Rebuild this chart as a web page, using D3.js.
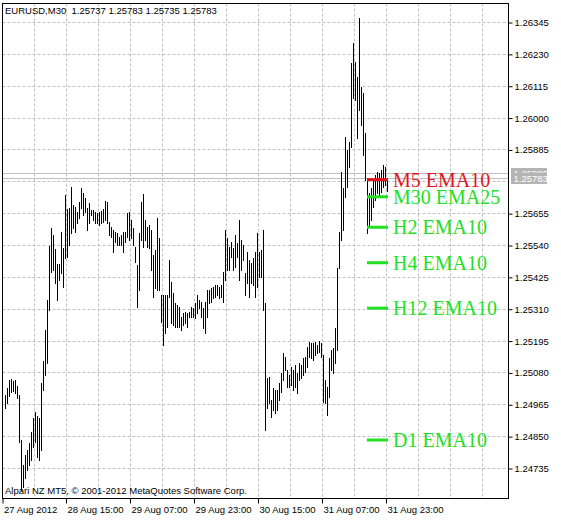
<!DOCTYPE html>
<html><head><meta charset="utf-8">
<script src="https://cdn.jsdelivr.net/npm/d3@7"></script>
<style>body{margin:0;background:#fff}svg{display:block}</style>
</head><body><svg id="c" width="561" height="520"></svg>
<script>
const symbol = "EURUSD,M30";
const lastOHLC = [1.25737, 1.25783, 1.25735, 1.25783];
const startTime = "2012-08-27T23:30:00";
const barMinutes = 30;
const highs = [
1.24998,1.25024,1.25053,1.25056,1.25049,1.25053,1.25031,1.24998,1.24836,1.24746,
1.24782,1.24800,1.24825,1.24865,1.24915,1.24937,1.24923,1.24915,1.25042,1.25121,
1.25233,1.25341,1.25536,1.25601,1.25576,1.25526,1.25471,1.25471,1.25587,1.25529,
1.25720,1.25670,1.25674,1.25749,1.25684,1.25677,1.25659,1.25695,1.25746,1.25728,
1.25710,1.25674,1.25692,1.25666,1.25666,1.25659,1.25656,1.25659,1.25663,1.25670,
1.25699,1.25695,1.25623,1.25605,1.25594,1.25587,1.25583,1.25569,1.25576,1.25587,
1.25587,1.25656,1.25659,1.25630,1.25601,1.25533,1.25468,1.25583,1.25695,1.25724,
1.25630,1.25605,1.25612,1.25594,1.25504,1.25522,1.25637,1.25565,1.25359,1.25359,
1.25359,1.25359,1.25486,1.25406,1.25367,1.25331,1.25323,1.25316,1.25280,1.25295,
1.25298,1.25295,1.25298,1.25316,1.25313,1.25331,1.25359,1.25341,1.25334,1.25313,
1.25334,1.25378,1.25378,1.25385,1.25388,1.25396,1.25396,1.25388,1.25396,1.25443,
1.25594,1.25565,1.25533,1.25551,1.25529,1.25576,1.25547,1.25630,1.25558,1.25540,
1.25439,1.25515,1.25486,1.25475,1.25493,1.25515,1.25583,1.25515,1.25522,1.25594,
1.25331,1.25060,1.25063,1.24980,1.25024,1.25017,1.25017,1.25042,1.25078,1.25150,
1.25136,1.25089,1.25071,1.25100,1.25089,1.25107,1.25078,1.25114,1.25107,1.25132,
1.25136,1.25172,1.25190,1.25186,1.25186,1.25190,1.25179,1.25193,1.25186,1.25143,
1.25053,1.25027,1.25132,1.25161,1.25168,1.25240,1.25457,1.25587,1.25804,1.25746,
1.25930,1.25883,1.25912,1.26197,1.26269,1.26201,1.26146,1.26359,1.26110,1.26089,
1.25944,1.25782,1.25728,1.25746,1.25775,1.25793,1.25804,1.25800,1.25811,1.25829,
1.25822,1.25783];
const lows = [
1.24952,1.24970,1.24995,1.25009,1.25013,1.25006,1.24988,1.24829,1.24656,1.24666,
1.24699,1.24728,1.24746,1.24764,1.24811,1.24829,1.24775,1.24764,1.24800,1.25017,
1.25071,1.25114,1.25305,1.25443,1.25450,1.25403,1.25341,1.25414,1.25439,1.25388,
1.25493,1.25497,1.25540,1.25583,1.25601,1.25587,1.25619,1.25637,1.25674,1.25648,
1.25659,1.25594,1.25619,1.25648,1.25630,1.25619,1.25619,1.25612,1.25619,1.25623,
1.25630,1.25619,1.25576,1.25569,1.25515,1.25551,1.25540,1.25540,1.25540,1.25515,
1.25551,1.25569,1.25558,1.25565,1.25540,1.25479,1.25316,1.25378,1.25558,1.25533,
1.25558,1.25533,1.25529,1.25450,1.25352,1.25385,1.25378,1.25378,1.25262,1.25179,
1.25222,1.25244,1.25352,1.25258,1.25251,1.25244,1.25244,1.25244,1.25233,1.25251,
1.25258,1.25244,1.25280,1.25280,1.25280,1.25276,1.25295,1.25313,1.25280,1.25240,
1.25222,1.25280,1.25331,1.25334,1.25349,1.25352,1.25359,1.25349,1.25352,1.25334,
1.25414,1.25450,1.25450,1.25497,1.25450,1.25461,1.25497,1.25414,1.25450,1.25486,
1.25359,1.25403,1.25352,1.25403,1.25396,1.25352,1.25388,1.25424,1.25424,1.25305,
1.24872,1.24952,1.24970,1.24919,1.24944,1.24934,1.24944,1.24980,1.25009,1.25053,
1.25089,1.25027,1.25027,1.25035,1.25017,1.25027,1.25006,1.25053,1.25060,1.25071,
1.25082,1.25100,1.25136,1.25132,1.25125,1.25143,1.25150,1.25154,1.25136,1.24973,
1.24970,1.24926,1.24991,1.25089,1.25078,1.25114,1.25161,1.25457,1.25558,1.25594,
1.25713,1.25749,1.25822,1.25894,1.26071,1.26063,1.25926,1.26027,1.25973,1.25865,
1.25775,1.25583,1.25605,1.25630,1.25677,1.25702,1.25728,1.25713,1.25731,1.25749,
1.25757,1.25735];
const priceTicks = [1.24735,1.24850,1.24965,1.25080,1.25195,1.25310,1.25425,1.25540,
                    1.25655,1.25770,1.25885,1.26000,1.26115,1.26230,1.26345];
const timeTickTimes = ["2012-08-27T23:30:00","2012-08-28T15:00:00","2012-08-29T07:00:00",
                       "2012-08-29T23:00:00","2012-08-30T15:00:00","2012-08-31T07:00:00","2012-08-31T23:00:00"];
const timeTickLabels = ["27 Aug 2012","28 Aug 15:00","29 Aug 07:00","29 Aug 23:00",
                        "30 Aug 15:00","31 Aug 07:00","31 Aug 23:00"];
const bidPrice = 1.25783, askPrice = 1.25800;
const emaLabels = ["M5 EMA10","M30 EMA25","H2 EMA10","H4 EMA10","H12 EMA10","D1 EMA10"];
const emaValues = [1.25776,1.25714,1.25604,1.25476,1.25312,1.24836];
const copyright = "Alpari NZ MT5, \u00A9 2001-2012 MetaQuotes Software Corp.";

const svg = d3.select("#c");
const plot = {left:2.5, top:3.5, right:508.5, bottom:498.5};
const FONT = "'Liberation Sans', Arial, sans-serif";

const parse = d3.timeParse("%Y-%m-%dT%H:%M:%S");
const t0 = parse(startTime);
const barTimes = highs.map((_, i) => d3.timeMinute.offset(t0, i * barMinutes));
const tLast = barTimes[barTimes.length - 1];

const x = d3.scaleTime().domain([t0, tLast]).range([5, 5 + 2 * (highs.length - 1)]);
const y = d3.scaleLinear().domain([priceTicks[0], priceTicks[priceTicks.length-1]]).range([468, 22]);

// tag geometry
const bidTop = Math.round(y(bidPrice)) - 5, bidBottom = bidTop + 11;
const askTop = Math.round(y(askPrice)) - 5;
const defs = svg.append("defs");
defs.append("clipPath").attr("id", "aboveBid").append("rect")
  .attr("x", 0).attr("y", 0).attr("width", 561).attr("height", bidTop);
defs.append("clipPath").attr("id", "belowBid").append("rect")
  .attr("x", 0).attr("y", bidBottom).attr("width", 561).attr("height", 520 - bidBottom);

// grid
const gridG = svg.append("g").attr("stroke", "#c0c0c0").attr("stroke-dasharray", "3,2").attr("stroke-width", 1);
priceTicks.forEach(p => {
  const yy = Math.round(y(p)) + 0.5;
  gridG.append("line").attr("x1", plot.left).attr("x2", plot.right).attr("y1", yy).attr("y2", yy);
});
const gridTimes = [];
for (let t = parse("2012-08-28T07:00:00"); x(t) < plot.right - 4; t = d3.timeHour.offset(t, 8)) gridTimes.push(t);
gridTimes.forEach(t => {
  const xx = Math.round(x(t)) - 0.5;
  gridG.append("line").attr("y1", plot.top).attr("y2", plot.bottom).attr("x1", xx).attr("x2", xx);
});

// bid / ask lines
[askPrice, bidPrice].forEach(p => {
  const yy = Math.round(y(p)) + 0.5;
  svg.append("line").attr("x1", plot.left).attr("x2", plot.right).attr("y1", yy).attr("y2", yy)
    .attr("stroke", "#c0c0c0").attr("stroke-width", 1);
});

// bars
svg.append("g").selectAll("line").data(barTimes).join("line")
  .attr("x1", d => Math.round(x(d)) + 0.5).attr("x2", d => Math.round(x(d)) + 0.5)
  .attr("y1", (d, i) => Math.round(y(highs[i])))
  .attr("y2", (d, i) => Math.round(y(lows[i])) + 1)
  .attr("stroke", "#000").attr("stroke-width", 1);

// frame
svg.append("rect").attr("x", plot.left).attr("y", plot.top)
  .attr("width", plot.right - plot.left).attr("height", plot.bottom - plot.top)
  .attr("fill", "none").attr("stroke", "#000").attr("stroke-width", 1);

// price axis
const yAxis = d3.axisRight(y).tickValues(priceTicks).tickFormat(d3.format(".5f")).tickSize(4).tickPadding(2);
const yAxG = svg.append("g").attr("transform", `translate(${plot.right},0.5)`).call(yAxis);
yAxG.select(".domain").remove();
yAxG.selectAll("line").attr("stroke", "#000");
yAxG.selectAll("text").attr("font-family", FONT).attr("font-size", "9.5px").attr("fill", "#000");
// tick label that sits under the price tags is only partly visible, as in the terminal
yAxG.selectAll(".tick").filter(d => Math.abs(y(d) - y(bidPrice)) < 9)
  .attr("clip-path", "url(#belowBid)");

// time axis
const tickDates = timeTickTimes.map(parse);
const xAxis = d3.axisBottom(x).tickValues(tickDates).tickFormat((d, i) => timeTickLabels[i]).tickSize(5).tickPadding(3);
const xAxG = svg.append("g").attr("transform", `translate(0,${plot.bottom})`).call(xAxis);
xAxG.select(".domain").remove();
xAxG.selectAll(".tick").attr("transform", (d, i) => `translate(${i === 0 ? plot.left + 0.5 : Math.round(x(d)) - 0.5},0)`);
xAxG.selectAll("line").attr("stroke", "#000");
xAxG.selectAll("text").attr("font-family", FONT).attr("font-size", "9.5px").attr("fill", "#000")
  .attr("text-anchor", "start").attr("x", 1);

// bid/ask price tags (ask tag partly covered by bid tag)
const askG = svg.append("g").attr("clip-path", "url(#aboveBid)");
askG.append("rect").attr("x", plot.right + 2.5).attr("y", askTop).attr("width", 36).attr("height", 11).attr("fill", "#b4b4b4");
askG.append("text").attr("x", plot.right + 5).attr("y", askTop + 9)
  .attr("font-family", FONT).attr("font-size", "9.5px").attr("fill", "#fff").text(d3.format(".5f")(askPrice));
const bidG = svg.append("g");
bidG.append("rect").attr("x", plot.right + 2.5).attr("y", bidTop).attr("width", 36).attr("height", 11).attr("fill", "#b4b4b4");
bidG.append("text").attr("x", plot.right + 5).attr("y", bidTop + 9)
  .attr("font-family", FONT).attr("font-size", "9.5px").attr("fill", "#fff").text(d3.format(".5f")(bidPrice));

// title & copyright
svg.append("text").attr("x", 5).attr("y", 14).attr("font-family", FONT).attr("font-size", "9.5px").attr("fill", "#000")
  .attr("xml:space", "preserve")
  .text(symbol + "  " + lastOHLC.map(d3.format(".5f")).join(" "));
svg.append("text").attr("x", 5).attr("y", 494).attr("font-family", FONT).attr("font-size", "9.5px").attr("fill", "#000")
  .text(copyright);

// EMA labels
const lineStart = barTimes[barTimes.length - 11];
const lineEnd = d3.timeMinute.offset(tLast, 15);
const emaG = svg.append("g");
emaValues.forEach((v, i) => {
  const col = i === 0 ? "#e0141e" : "#22e022";
  const yy = y(v);
  emaG.append("line").attr("x1", x(lineStart)).attr("x2", x(lineEnd)).attr("y1", yy).attr("y2", yy)
    .attr("stroke", col).attr("stroke-width", 3);
  emaG.append("text").attr("x", x(lineEnd) + 5).attr("y", yy + 7)
    .attr("font-family", "'Liberation Serif', 'DejaVu Serif', serif").attr("font-size", "20px")
    .attr("fill", col).text(emaLabels[i]);
});
</script></body></html>
